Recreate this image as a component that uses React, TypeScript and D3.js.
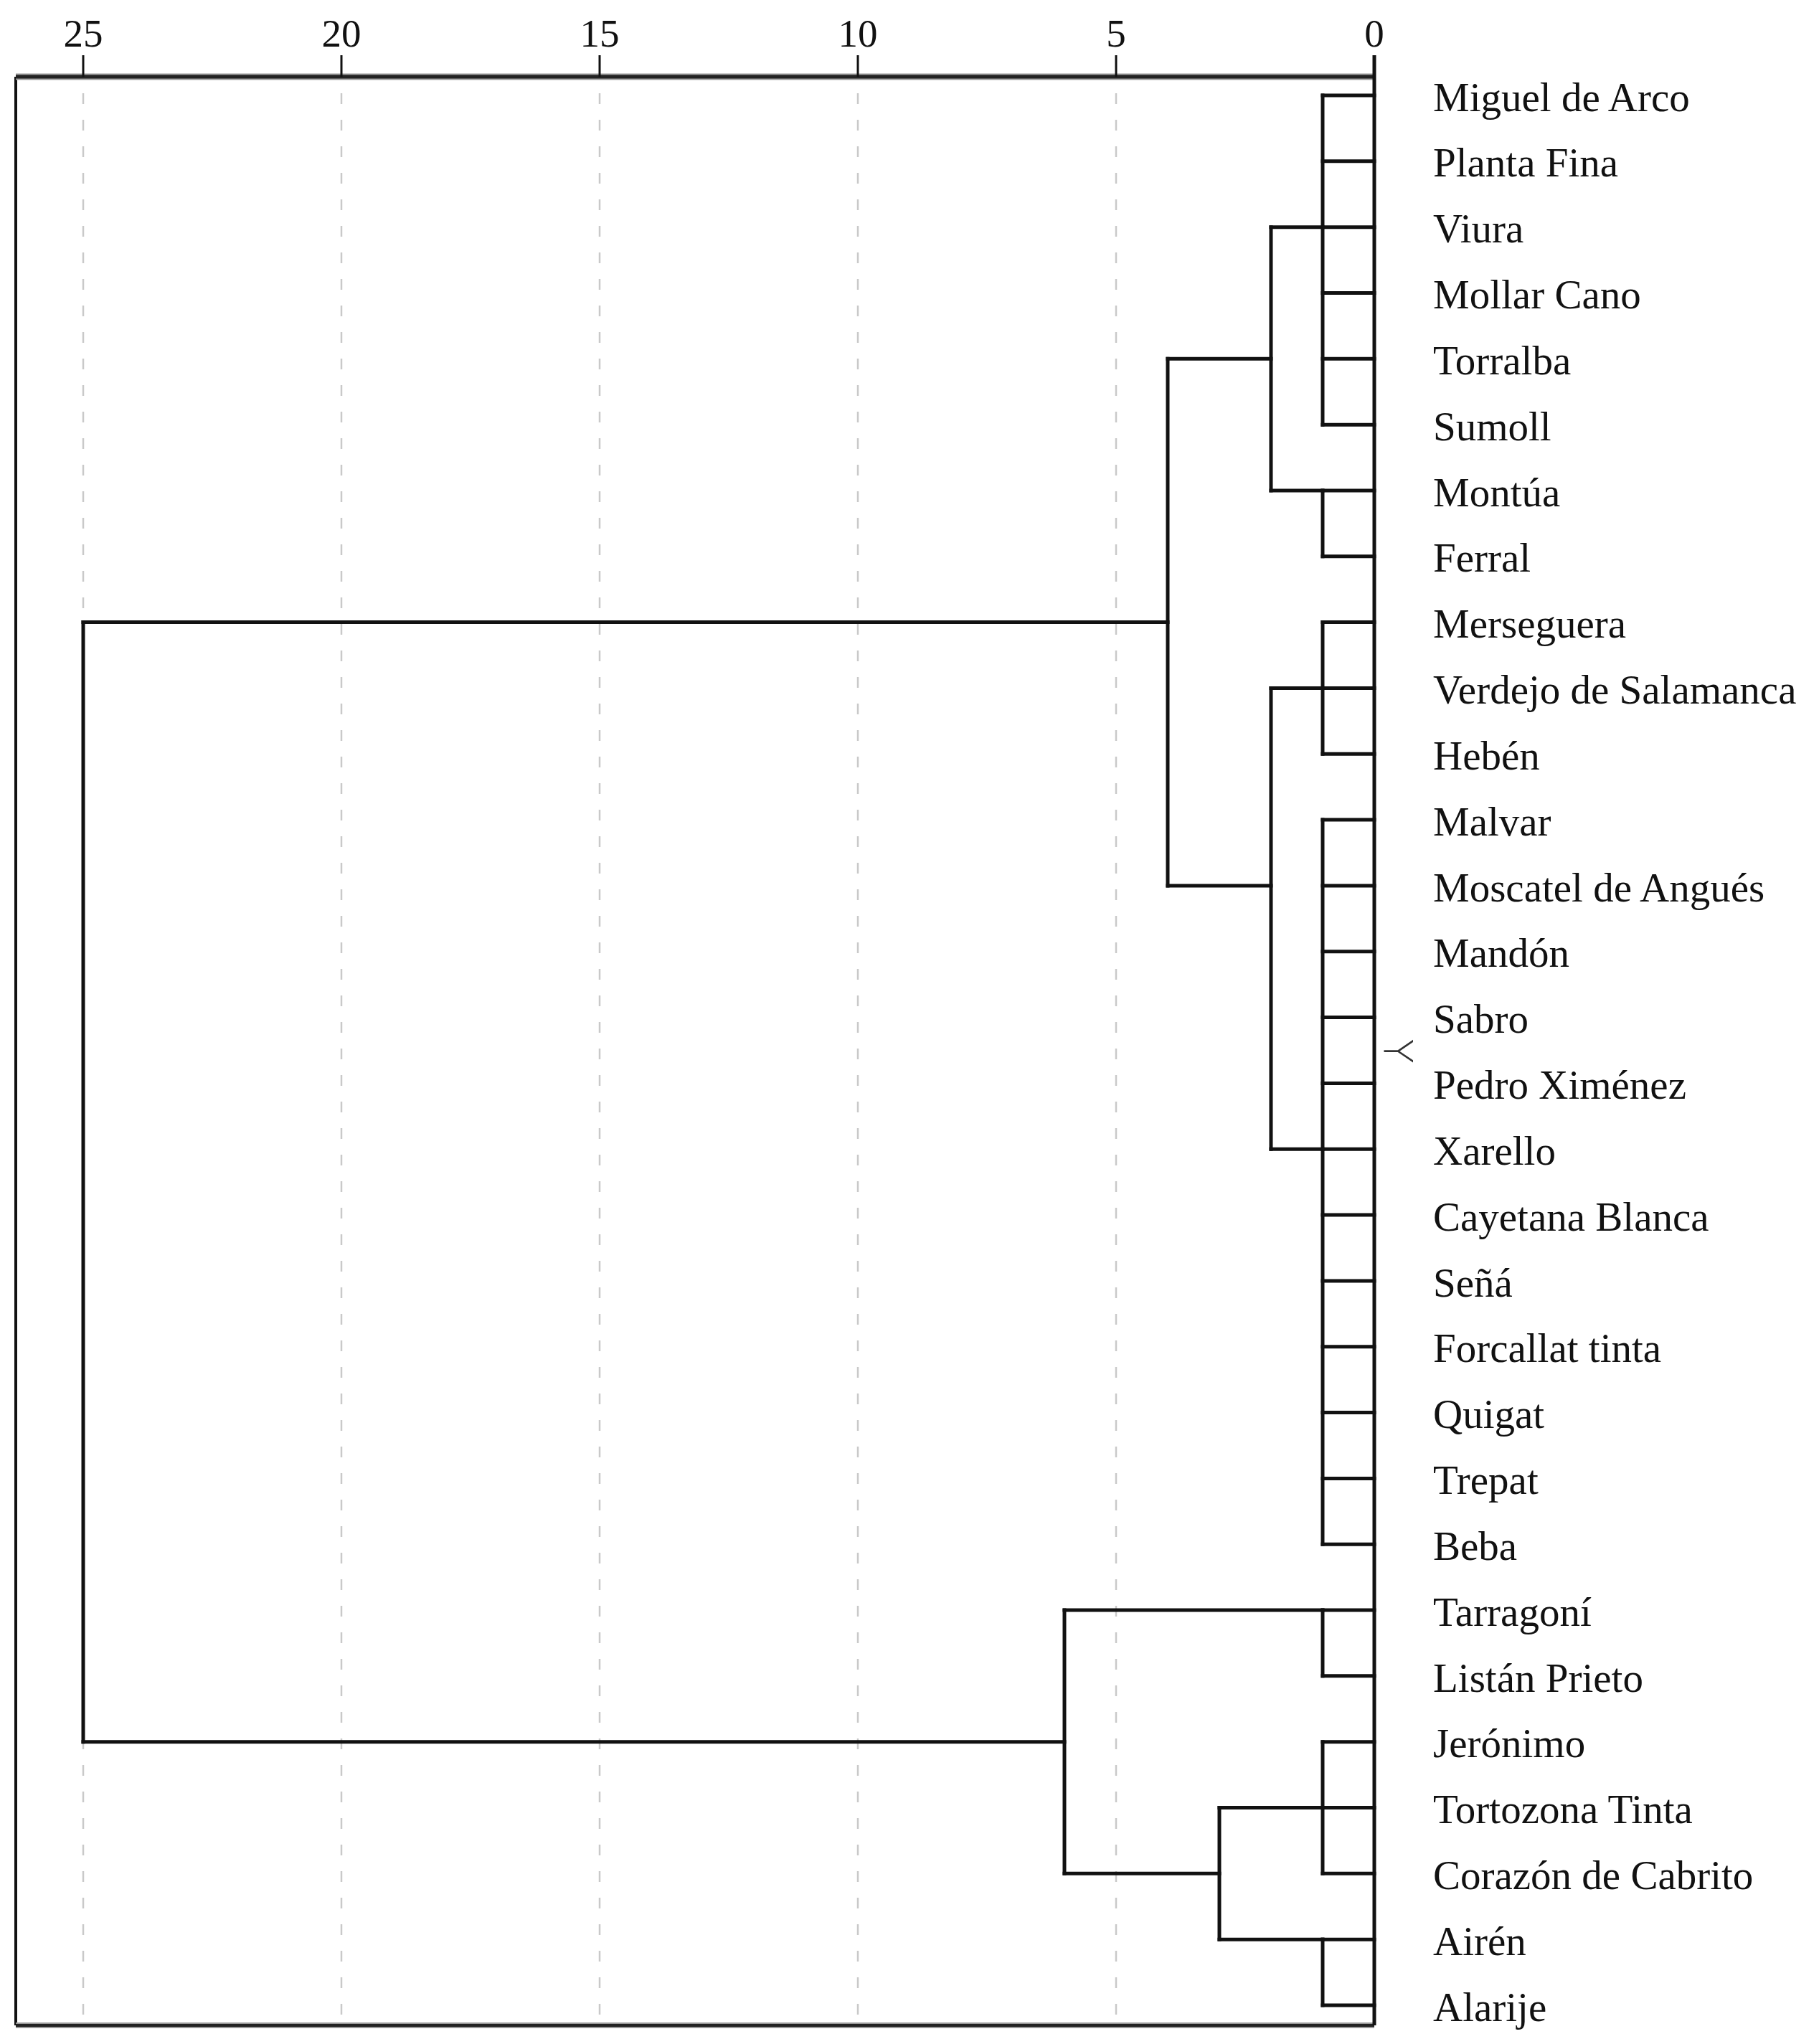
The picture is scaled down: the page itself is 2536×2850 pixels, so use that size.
import React from 'react'
import * as d3 from 'd3'

// leaf order, top to bottom
const varieties = [
  'Miguel de Arco', 'Planta Fina', 'Viura', 'Mollar Cano', 'Torralba', 'Sumoll',
  'Montúa', 'Ferral', 'Merseguera', 'Verdejo de Salamanca', 'Hebén', 'Malvar',
  'Moscatel de Angués', 'Mandón', 'Sabro', 'Pedro Ximénez', 'Xarello', 'Cayetana Blanca',
  'Señá', 'Forcallat tinta', 'Quigat', 'Trepat', 'Beba', 'Tarragoní', 'Listán Prieto',
  'Jerónimo', 'Tortozona Tinta', 'Corazón de Cabrito', 'Airén', 'Alarije'
]

// merges, in the order they happen
const mergeIds = ['A', 'B', 'C', 'D', 'E', 'F', 'G', 'AB', 'CD', 'FG', 'ABCD', 'EFG', 'root']
const mergeHeights = [1, 1, 1, 1, 1, 1, 1, 2, 2, 3, 4, 6, 25]
const mergeChildren = [
  ['Miguel de Arco', 'Planta Fina', 'Viura', 'Mollar Cano', 'Torralba', 'Sumoll'],
  ['Montúa', 'Ferral'],
  ['Merseguera', 'Verdejo de Salamanca', 'Hebén'],
  ['Malvar', 'Moscatel de Angués', 'Mandón', 'Sabro', 'Pedro Ximénez', 'Xarello',
    'Cayetana Blanca', 'Señá', 'Forcallat tinta', 'Quigat', 'Trepat', 'Beba'],
  ['Tarragoní', 'Listán Prieto'],
  ['Jerónimo', 'Tortozona Tinta', 'Corazón de Cabrito'],
  ['Airén', 'Alarije'],
  ['A', 'B'],
  ['C', 'D'],
  ['F', 'G'],
  ['AB', 'CD'],
  ['E', 'FG'],
  ['ABCD', 'EFG']
]
// row where each merged cluster's branch leaves it
const mergeAnchors = [
  'Viura', 'Montúa', 'Verdejo de Salamanca', 'Xarello', 'Tarragoní', 'Tortozona Tinta',
  'Airén', 'Torralba', 'Moscatel de Angués', 'Corazón de Cabrito', 'Merseguera', 'Jerónimo', null
]

const distTicks = [25, 20, 15, 10, 5, 0]

const W = 2536
const H = 2850
const frameLeft = 22
const frameTop = 107
const frameBottom = 2824
const serif = '"Liberation Serif", "Times New Roman", serif'

const App = () => {
  const x = d3.scaleLinear().domain([0, 25]).range([1916, 116])
  const y = d3.scalePoint<string>().domain(varieties).range([133, 2796])

  const nodes: Record<string, { y: number, h: number }> = {}
  varieties.forEach(v => { nodes[v] = { y: y(v) as number, h: 0 } })

  const segs: { x1: number, y1: number, x2: number, y2: number }[] = []
  mergeIds.forEach((id, i) => {
    const h = mergeHeights[i]
    const kids = mergeChildren[i].map(k => nodes[k])
    kids.forEach(k => segs.push({ x1: x(k.h), y1: k.y, x2: x(h), y2: k.y }))
    const ys = kids.map(k => k.y)
    segs.push({ x1: x(h), y1: d3.min(ys)!, x2: x(h), y2: d3.max(ys)! })
    const a = mergeAnchors[i]
    nodes[id] = { y: a ? (y(a) as number) : d3.mean(ys)!, h }
  })

  const midY = (frameTop + frameBottom) / 2

  return (
    <svg width={W} height={H} style={{ position: 'absolute', left: 0, top: 0, background: '#fff' }}>
      {/* dashed grid */}
      {distTicks.filter(t => t > 0).map(t => (
        <line key={'g' + t} x1={x(t)} x2={x(t)} y1={130} y2={frameBottom}
          stroke="#c9c9c9" strokeWidth={2.5} strokeDasharray="15 22" />
      ))}

      {/* frame */}
      <line x1={frameLeft} x2={frameLeft} y1={frameTop} y2={frameBottom} stroke="#111" strokeWidth={4} />
      <line x1={frameLeft} x2={x(0)} y1={frameBottom} y2={frameBottom} stroke="#999" strokeWidth={8} />
      <line x1={frameLeft} x2={x(0)} y1={frameBottom} y2={frameBottom} stroke="#222" strokeWidth={4} />
      <line x1={frameLeft} x2={x(0)} y1={frameTop} y2={frameTop} stroke="#999" strokeWidth={9} />
      <line x1={frameLeft} x2={x(0)} y1={frameTop} y2={frameTop} stroke="#222" strokeWidth={5} />

      {/* top axis */}
      {distTicks.map(t => (
        <g key={'t' + t}>
          <line x1={x(t)} x2={x(t)} y1={77} y2={frameTop} stroke="#111" strokeWidth={3} />
          <text x={x(t)} y={65} textAnchor="middle" fontFamily={serif} fontSize={55} fill="#111">{t}</text>
        </g>
      ))}

      {/* dendrogram */}
      {segs.map((s, i) => (
        <line key={'s' + i} x1={s.x1} y1={s.y1} x2={s.x2} y2={s.y2}
          stroke="#111" strokeWidth={5} strokeLinecap="square" />
      ))}
      <line x1={x(0)} x2={x(0)} y1={frameTop - 30} y2={frameBottom} stroke="#111" strokeWidth={5} />

      {/* leaf labels */}
      {varieties.map(v => (
        <text key={v} x={1998} y={y(v)} dy="0.38em" fontFamily={serif} fontSize={57} fill="#111">{v}</text>
      ))}

      {/* axis title */}
      <text x={1950} y={midY} transform={`rotate(90, 1950, ${midY})`}
        textAnchor="middle" dy="0.35em" fontFamily='"DejaVu Sans", sans-serif' fontWeight={200} fontSize={56} fill="#333">Y</text>
    </svg>
  )
}

export default App
